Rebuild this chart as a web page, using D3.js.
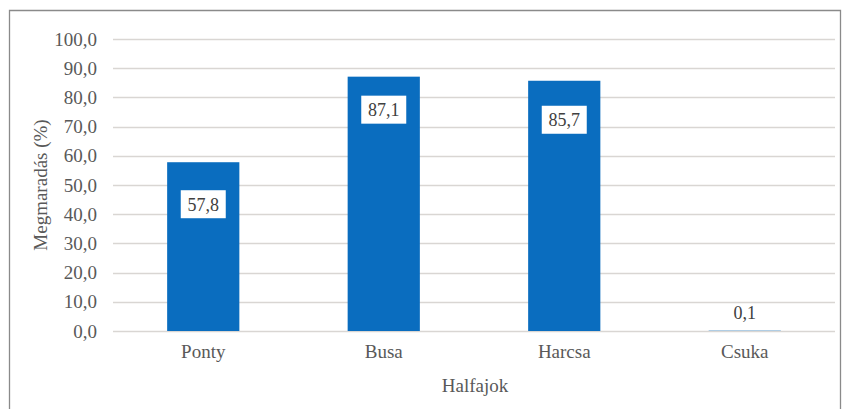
<!DOCTYPE html>
<html>
<head>
<meta charset="utf-8">
<script src="https://cdn.jsdelivr.net/npm/d3@7"></script>
<style>
  html, body { margin: 0; padding: 0; background: #ffffff; }
  svg { display: block; }
  svg text { font-family: "Liberation Serif", "Times New Roman", serif; }
</style>
</head>
<body>
<div id="chart"></div>
<script>
// Survival rate per fish species
const species = ["Ponty", "Busa", "Harcsa", "Csuka"];
const survival = [57.8, 87.1, 85.7, 0.1];
const yTicks = [0, 10, 20, 30, 40, 50, 60, 70, 80, 90, 100];
const yTitle = "Megmaradás (%)";
const xTitle = "Halfajok";

// layout
const W = 842, H = 409;
const plot = { left: 113, right: 835, top: 39, bottom: 331 };
const labelDrop = [42, 33, 39, -18]; // distance of each value label centre below the bar top
const fmt = v => d3.format(".1f")(v).replace(".", ",");
const SERIF = "'Liberation Serif', 'Times New Roman', serif";

const svg = d3.select("#chart").append("svg")
  .attr("width", W).attr("height", H);

// outer frame (open at the bottom edge of the page)
svg.append("path")
  .attr("d", `M9.5,${H + 2} V10.5 H840.5 V${H + 2}`)
  .attr("fill", "none").attr("stroke", "#8a8a8a").attr("stroke-width", 1.3);

const x = d3.scaleBand().domain(species)
  .range([plot.left, plot.right]).paddingInner(0.6).paddingOuter(0.3);
const y = d3.scaleLinear().domain([0, 100]).range([plot.bottom, plot.top]);

// gridlines
svg.append("g").selectAll("line").data(yTicks).join("line")
  .attr("x1", plot.left).attr("x2", plot.right)
  .attr("y1", d => Math.round(y(d)) + 0.5).attr("y2", d => Math.round(y(d)) + 0.5)
  .attr("stroke", "#d9d6d3").attr("stroke-width", 1.3);

// y axis labels
const yAxis = svg.append("g")
  .attr("transform", `translate(${plot.left},0)`)
  .call(d3.axisLeft(y).tickValues(yTicks).tickFormat(fmt).tickSize(0).tickPadding(16));
yAxis.attr("font-family", null).attr("font-size", null);
yAxis.select(".domain").remove();
yAxis.selectAll("text")
  .style("font-family", SERIF)
  .style("font-size", "19px").attr("fill", "#595959");

// x axis labels
const xAxis = svg.append("g")
  .attr("transform", `translate(0,${plot.bottom})`)
  .call(d3.axisBottom(x).tickSize(0).tickPadding(14));
xAxis.attr("font-family", null).attr("font-size", null);
xAxis.select(".domain").remove();
xAxis.selectAll("text")
  .style("font-family", SERIF)
  .style("font-size", "19px").attr("fill", "#595959");

// bars
const data = species.map((s, i) => ({ s, v: survival[i], drop: labelDrop[i] }));
svg.append("g").selectAll("rect").data(data).join("rect")
  .attr("x", d => x(d.s)).attr("width", x.bandwidth())
  .attr("y", d => y(d.v)).attr("height", d => y(0) - y(d.v))
  .attr("fill", "#0a6dbf");

// value labels in white boxes
const lab = svg.append("g").selectAll("g").data(data).join("g")
  .attr("transform", d => `translate(${x(d.s) + x.bandwidth() / 2},${y(d.v) + d.drop})`);
lab.filter(d => d.drop > 0).append("rect")
  .attr("x", -22.5).attr("y", -14).attr("width", 45).attr("height", 28)
  .attr("fill", "#ffffff");
lab.append("text")
  .attr("text-anchor", "middle").attr("dy", "0.35em")
  .style("font-family", SERIF)
  .style("font-size", "18px").attr("fill", "#404040")
  .text(d => fmt(d.v));

// axis titles
svg.append("text")
  .attr("transform", `translate(40,${(plot.top + plot.bottom) / 2}) rotate(-90)`)
  .attr("text-anchor", "middle").attr("dy", "0.35em")
  .style("font-family", SERIF)
  .style("font-size", "19px").attr("fill", "#595959")
  .text(yTitle);

svg.append("text")
  .attr("x", (plot.left + plot.right) / 2 + 1).attr("y", 385)
  .attr("text-anchor", "middle").attr("dy", "0.35em")
  .style("font-family", SERIF)
  .style("font-size", "19px").attr("fill", "#595959")
  .text(xTitle);
</script>
</body>
</html>
